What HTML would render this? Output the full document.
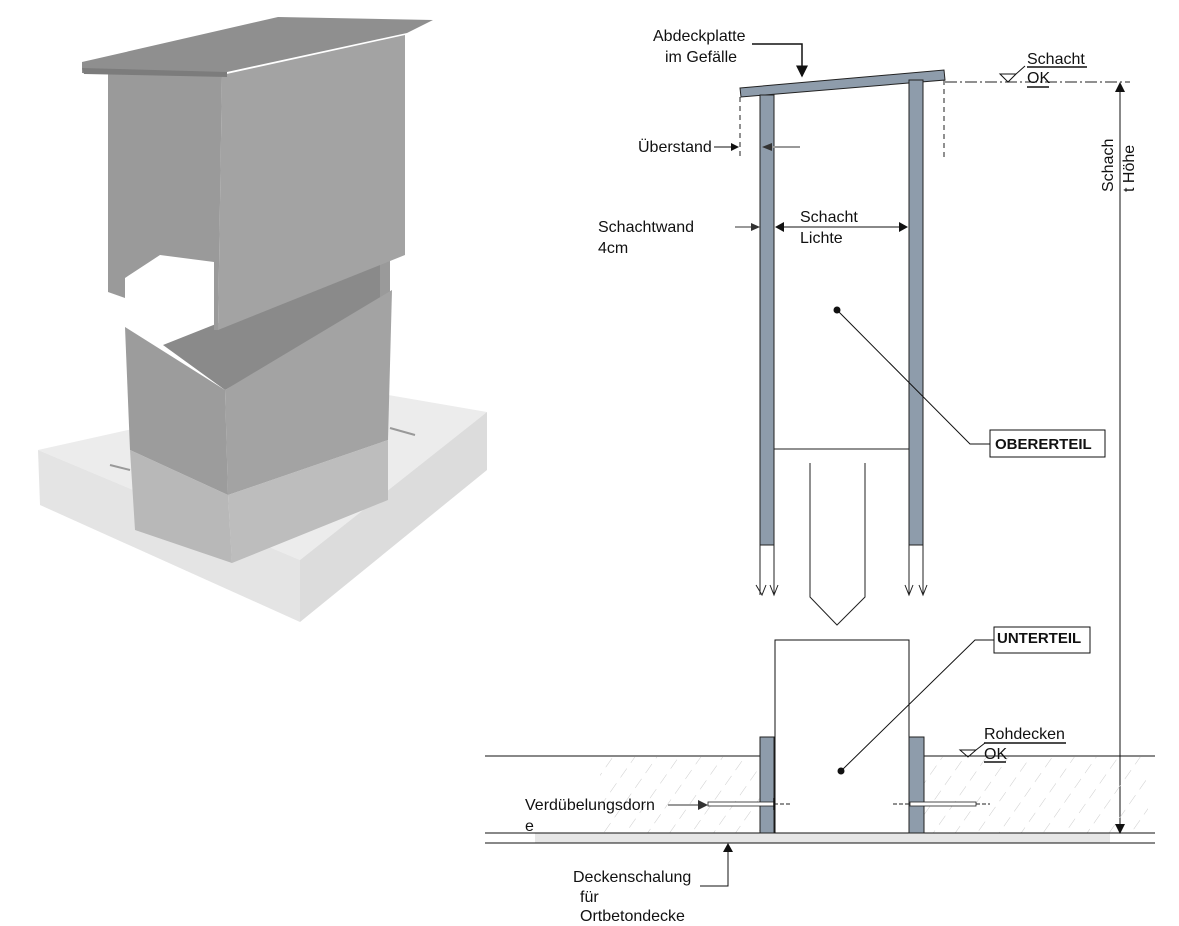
<!DOCTYPE html>
<html><head><meta charset="utf-8"><style>
html,body{margin:0;padding:0;background:#fff;}
svg{display:block;font-family:"Liberation Sans",sans-serif;}
text{font-size:16px;fill:#111;}
</style></head><body>
<svg width="1179" height="926" viewBox="0 0 1179 926" xmlns="http://www.w3.org/2000/svg">
<defs>
<pattern id="h" width="18" height="18" patternUnits="userSpaceOnUse" patternTransform="rotate(35)">
<line x1="0" y1="0" x2="0" y2="11" stroke="#ccc" stroke-width="1"/>
</pattern>
<marker id="a" markerWidth="8" markerHeight="8" refX="7" refY="4" orient="auto"><path d="M0,0 L8,4 L0,8z" fill="#111"/></marker>
</defs>
<!-- 3D render -->
<polygon points="38,450 330,385 487,412 300,560" fill="#ececec"/>
<polygon points="38,450 300,560 300,622 40,505" fill="#e4e4e4"/>
<polygon points="300,560 487,412 487,470 300,622" fill="#dcdcdc"/>
<line x1="110" y1="465" x2="130" y2="470" stroke="#999" stroke-width="2"/>
<line x1="263" y1="530" x2="285" y2="540" stroke="#999" stroke-width="2"/>
<line x1="390" y1="428" x2="415" y2="435" stroke="#999" stroke-width="2"/>
<!-- lower box -->
<polygon points="163,345 390,255 390,300 225,390" fill="#8a8a8a"/>
<polygon points="380,255 390,255 390,300 380,300" fill="#9a9a9a"/>
<polygon points="125,327 225,390 228,495 130,450" fill="#9c9c9c"/>
<polygon points="225,390 392,290 388,440 228,495" fill="#a3a3a3"/>
<polygon points="130,450 228,495 232,563 135,530" fill="#b8b8b8"/>
<polygon points="228,495 388,440 388,500 232,563" fill="#bdbdbd"/>
<!-- upper box -->
<polygon points="108,67 222,75 218,330 214,330 214,262 160,255 125,278 125,298 108,292" fill="#9a9a9a"/>
<polygon points="222,75 405,35 405,255 218,330" fill="#a3a3a3"/>
<polygon points="82,62 278,17 433,20 407,33 227,72 82,73" fill="#8f8f8f"/>
<polygon points="82,68 227,72 227,77 84,74" fill="#7c7c7c"/>
<!-- top plate -->
<polygon points="740,88 944,70 945,80 741,97" fill="#8e9cab" stroke="#222" stroke-width="1"/>
<rect x="760" y="95" width="14" height="450" fill="#8e9cab" stroke="#222"/>
<rect x="909" y="80" width="14" height="465" fill="#8e9cab" stroke="#222"/>
<line x1="760" y1="545" x2="760" y2="595" stroke="#222"/>
<line x1="774" y1="545" x2="774" y2="595" stroke="#222"/>
<line x1="909" y1="545" x2="909" y2="595" stroke="#222"/>
<line x1="923" y1="545" x2="923" y2="595" stroke="#222"/>
<path d="M756,585 L762,595 L766,585 M770,585 L774,595 L778,585 M905,585 L909,595 L913,585 M919,585 L923,595 L927,585" fill="none" stroke="#222"/>
<line x1="774" y1="449" x2="909" y2="449" stroke="#222"/>
<path d="M810,463 L810,597 L837,625 L865,597 L865,463" fill="none" stroke="#222"/>
<line x1="740" y1="97" x2="740" y2="158" stroke="#222" stroke-dasharray="5,4"/>
<line x1="944" y1="80" x2="944" y2="158" stroke="#222" stroke-dasharray="5,4"/>
<line x1="945" y1="82" x2="1130" y2="82" stroke="#222" stroke-dasharray="12,3,2,3"/>
<!-- labels top -->
<text x="653" y="41">Abdeckplatte</text>
<text x="665" y="62">im Gefälle</text>
<path d="M752,44 L802,44 L802,76" fill="none" stroke="#111" stroke-width="1.5" marker-end="url(#a)"/>
<text x="1027" y="64">Schacht</text><line x1="1027" y1="67" x2="1087" y2="67" stroke="#111" stroke-width="1.5"/>
<text x="1027" y="83">OK</text><line x1="1027" y1="87" x2="1049" y2="87" stroke="#111" stroke-width="1.5"/>
<path d="M1000,74 L1016,74 L1008,82z M1016,74 L1025,66" fill="none" stroke="#111"/>
<text x="638" y="152">Überstand</text>
<line x1="714" y1="147" x2="738" y2="147" stroke="#111" marker-end="url(#a)"/>
<line x1="800" y1="147" x2="766" y2="147" stroke="#999" stroke-width="2"/>
<path d="M772,143 L762,147 L772,151z" fill="#333"/>
<text x="598" y="232">Schachtwand</text>
<text x="598" y="253">4cm</text>
<line x1="735" y1="227" x2="756" y2="227" stroke="#999" stroke-width="2"/>
<path d="M751,223 L760,227 L751,231z" fill="#333"/>
<text x="800" y="222">Schacht</text>
<text x="800" y="243">Lichte</text>
<line x1="776" y1="227" x2="907" y2="227" stroke="#111"/>
<path d="M784,222 L775,227 L784,232z M899,222 L908,227 L899,232z" fill="#111"/>
<line x1="1120" y1="86" x2="1120" y2="830" stroke="#111"/>
<path d="M1115,92 L1120,82 L1125,92z M1115,824 L1120,834 L1125,824z" fill="#111"/>
<text transform="translate(1113,192) rotate(-90)">Schach</text>
<text transform="translate(1134,192) rotate(-90)">t Höhe</text>
<circle cx="837" cy="310" r="3.5" fill="#111"/>
<path d="M837,310 L970,444 L990,444" fill="none" stroke="#111"/>
<rect x="990" y="430" width="115" height="27" fill="#fff" stroke="#111"/>
<text x="995" y="449" font-weight="bold" style="font-size:15px">OBERERTEIL</text>
<rect x="600" y="757" width="548" height="76" fill="url(#h)"/>
<rect x="535" y="833" width="575" height="10" fill="#e6e6e6"/>
<line x1="485" y1="756" x2="1155" y2="756" stroke="#111"/>
<line x1="485" y1="833" x2="1155" y2="833" stroke="#111"/>
<line x1="485" y1="843" x2="1155" y2="843" stroke="#111"/>
<rect x="775" y="640" width="134" height="193" fill="#fff" stroke="#111"/>
<rect x="760" y="737" width="14" height="96" fill="#8e9cab" stroke="#222"/>
<rect x="909" y="737" width="15" height="96" fill="#8e9cab" stroke="#222"/>
<rect x="708" y="802" width="66" height="4" fill="#fff" stroke="#222" stroke-width="0.8"/>
<rect x="910" y="802" width="66" height="4" fill="#fff" stroke="#222" stroke-width="0.8"/>
<line x1="774" y1="804" x2="790" y2="804" stroke="#222" stroke-dasharray="4,2"/>
<line x1="893" y1="804" x2="910" y2="804" stroke="#222" stroke-dasharray="4,2"/>
<line x1="976" y1="804" x2="990" y2="804" stroke="#222" stroke-dasharray="4,2"/>
<line x1="774" y1="798" x2="774" y2="810" stroke="#111" stroke-width="1.5"/>
<circle cx="841" cy="771" r="3.5" fill="#111"/>
<path d="M841,771 L975,640 L995,640" fill="none" stroke="#111"/>
<rect x="994" y="627" width="96" height="26" fill="#fff" stroke="#111"/>
<text x="997" y="643" font-weight="bold" style="font-size:15px">UNTERTEIL</text>
<text x="984" y="739">Rohdecken</text><line x1="984" y1="743" x2="1066" y2="743" stroke="#111" stroke-width="1.5"/>
<text x="984" y="759">OK</text><line x1="984" y1="762" x2="1006" y2="762" stroke="#111" stroke-width="1.5"/>
<path d="M960,750 L976,750 L968,757z M976,750 L985,743" fill="none" stroke="#111"/>
<text x="525" y="810">Verdübelungsdorn</text>
<text x="525" y="831">e</text>
<line x1="668" y1="805" x2="700" y2="805" stroke="#999" stroke-width="2"/>
<path d="M698,800 L708,805 L698,810z" fill="#333"/>
<text x="573" y="882">Deckenschalung</text>
<text x="580" y="902">für</text>
<text x="580" y="921">Ortbetondecke</text>
<path d="M700,886 L728,886 L728,848" fill="none" stroke="#111"/>
<path d="M723,852 L728,843 L733,852z" fill="#111"/>
</svg>
</body></html>
